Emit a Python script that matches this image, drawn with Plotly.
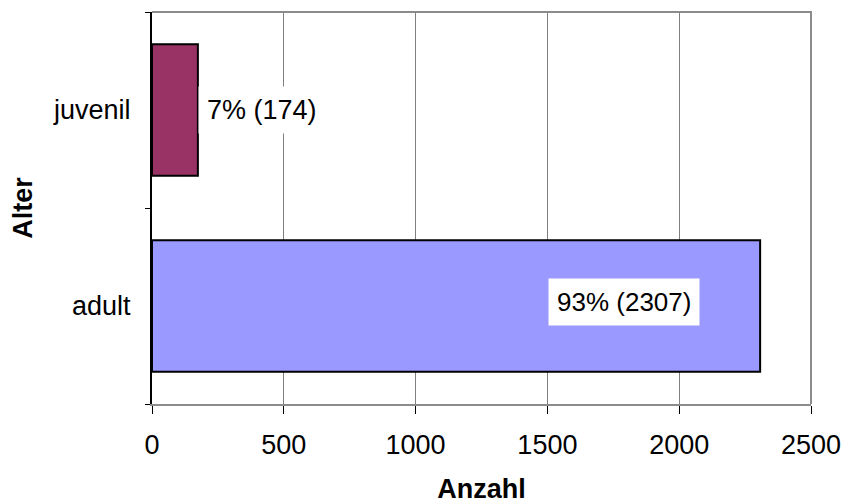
import plotly.graph_objects as go

categories = ["adult", "juvenil"]
counts = [2307, 174]
percent_labels = ["93%", "7%"]
bar_colors = ["#9999FF", "#993366"]
x_ticks = [0, 500, 1000, 1500, 2000, 2500]

FONT = "Liberation Sans, Arial, sans-serif"
FS = 27

fig = go.Figure()
fig.add_trace(go.Bar(
    y=categories,
    x=counts,
    orientation="h",
    marker=dict(color=bar_colors, line=dict(color="black", width=2)),
    hoverinfo="skip",
))

# data labels
fig.add_annotation(
    x=counts[0], y=categories[0], xref="x", yref="y",
    text=f"{percent_labels[0]} ({counts[0]})",
    showarrow=False, xanchor="right", xshift=-60, yshift=4,
    bgcolor="white", borderpad=8,
    font=dict(family=FONT, size=26, color="black"),
)
fig.add_annotation(
    x=counts[1], y=categories[1], xref="x", yref="y",
    text=f"{percent_labels[1]} ({counts[1]})",
    showarrow=False, xanchor="left", xshift=0,
    bgcolor="white", borderpad=8,
    font=dict(family=FONT, size=FS, color="black"),
)

# grey plot-area border (top and right)
fig.add_shape(
    type="path", xref="paper", yref="paper",
    path="M 0,1 L 1,1 L 1,0",
    line=dict(color="#8c8c8c", width=2), layer="above",
)

fig.update_layout(
    width=846, height=504,
    margin=dict(l=152, r=35, t=12, b=100),
    paper_bgcolor="white", plot_bgcolor="white",
    showlegend=False,
    bargap=0.33,
    font=dict(family=FONT, size=FS, color="black"),
)

fig.update_xaxes(
    range=[0, 2500], tickvals=x_ticks, ticktext=[str(v) for v in x_ticks],
    automargin=False,
    showgrid=True, gridcolor="#808080", gridwidth=1,
    showline=True, linecolor="#8c8c8c", linewidth=2,
    ticks="outside", ticklen=8, tickcolor="black", tickwidth=1,
    tickfont=dict(family=FONT, size=FS, color="black"),
    ticklabelstandoff=8,
    zeroline=False,
    title=dict(text="<b>Anzahl</b>", font=dict(family=FONT, size=FS, color="black"), standoff=36),
)
fig.update_yaxes(
    categoryorder="array", categoryarray=categories,
    range=[-0.5, 1.5],
    automargin=False,
    showgrid=False,
    showline=True, linecolor="black", linewidth=2,
    ticks="outside", ticklen=5, tickcolor="black", tickwidth=1,
    tickson="boundaries",
    tickfont=dict(family=FONT, size=FS, color="black"),
    ticklabelstandoff=14,
    title=dict(text="<b>Alter</b>", font=dict(family=FONT, size=FS, color="black"), standoff=13),
)

fig.write_html(
    "out.html",
    config={"displayModeBar": False, "staticPlot": True},
    post_script="document.body.style.margin='0';document.body.style.overflow='hidden';",
)
